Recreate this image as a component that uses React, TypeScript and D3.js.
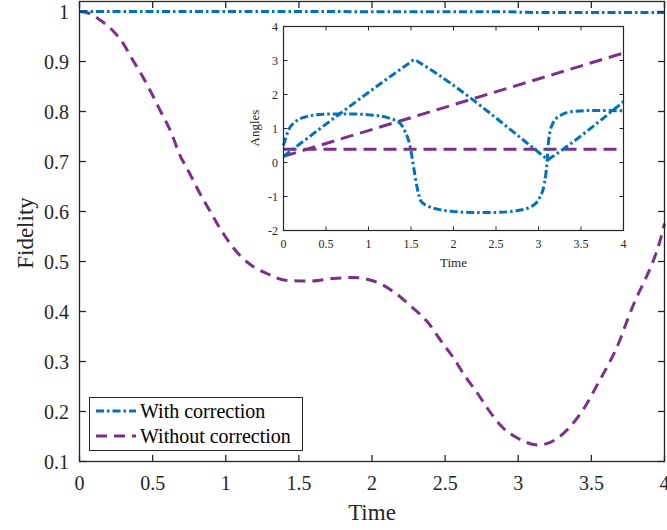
import React, { useEffect, useRef } from 'react';
import * as d3 from 'd3';

// Main plot: fidelity vs time
const fidTime = [0, 0.07, 0.14, 0.22, 0.29, 0.36, 0.42, 0.49, 0.56, 0.63, 0.68, 0.75, 0.82, 0.89, 0.97, 1.05, 1.15, 1.28, 1.42, 1.58, 1.73, 1.87, 2.01, 2.15, 2.26, 2.38, 2.47, 2.56, 2.64, 2.72, 2.79, 2.89, 3.0, 3.14, 3.28, 3.39, 3.47, 3.55, 3.62, 3.69, 3.745, 3.8, 3.86, 3.92, 3.97, 4.0];
const fidWithout = [1.0, 0.996, 0.983, 0.964, 0.94, 0.905, 0.876, 0.838, 0.797, 0.756, 0.717, 0.678, 0.638, 0.602, 0.562, 0.528, 0.498, 0.476, 0.462, 0.461, 0.466, 0.468, 0.461, 0.439, 0.412, 0.379, 0.342, 0.306, 0.269, 0.237, 0.206, 0.169, 0.146, 0.133, 0.149, 0.182, 0.216, 0.259, 0.296, 0.339, 0.382, 0.422, 0.459, 0.499, 0.542, 0.576];
const withTime = [0, 1, 2, 2.9, 3.1, 3.5, 4];
const fidWith = [1.0, 1.0, 0.9997, 0.9995, 0.998, 0.998, 0.998];

const mainXTicks = [0, 0.5, 1, 1.5, 2, 2.5, 3, 3.5, 4];
const mainYTicks = [0.1, 0.2, 0.3, 0.4, 0.5, 0.6, 0.7, 0.8, 0.9, 1];

// Inset: angles vs time
const triTime = [0, 1.5, 1.54, 1.58, 3.08, 3.11, 3.14, 4];
const triAngle = [0.18, 2.96, 3.03, 2.97, 0.14, 0.08, 0.13, 1.79];
const sigTime = [0, 0.06, 0.14, 0.27, 0.47, 0.74, 1.02, 1.25, 1.37, 1.43, 1.49, 1.53, 1.57, 1.62, 1.76, 2.0, 2.23, 2.47, 2.74, 2.92, 3.01, 3.07, 3.1, 3.12, 3.17, 3.25, 3.4, 3.64, 4.0];
const sigAngle = [0.5, 0.96, 1.2, 1.35, 1.42, 1.43, 1.4, 1.3, 1.16, 0.91, 0.47, -0.12, -0.71, -1.15, -1.34, -1.44, -1.47, -1.47, -1.42, -1.29, -1.05, -0.61, -0.02, 0.67, 1.16, 1.37, 1.5, 1.53, 1.52];
const rampTime = [0, 2, 4];
const rampAngle = [0.18, 1.7, 3.22];
const flatTime = [0, 4];
const flatAngle = [0.39, 0.39];

const insetXTicks = [0, 0.5, 1, 1.5, 2, 2.5, 3, 3.5, 4];
const insetYTicks = [-2, -1, 0, 1, 2, 3, 4];

const legendLabels = ['With correction', 'Without correction'];

const BLUE = '#0072BD';
const PURPLE = '#7E2F8E';
const AXIS = '#262626';
const FONT = '"Liberation Serif", "Times New Roman", serif';

export default function App() {
  const svgRef = useRef<SVGSVGElement>(null);

  useEffect(() => {
    document.body.style.margin = '0';
    const svg = d3.select(svgRef.current);
    svg.selectAll('*').remove();

    const zip = (xs: number[], ys: number[]) => xs.map((x, i) => [x, ys[i]] as [number, number]);

    // ---- main axes ----
    const x = d3.scaleLinear().domain([0, 4]).range([79.5, 664.5]);
    const y = d3.scaleLinear().domain([0.1, 1.02]).range([461.5, 1.5]);

    const main = svg.append('g');
    main.append('rect')
      .attr('x', 79.5).attr('y', 1.5)
      .attr('width', 585).attr('height', 460)
      .attr('fill', 'white');

    const line = d3.line<[number, number]>()
      .x(d => x(d[0]))
      .y(d => y(d[1]))
      .curve(d3.curveMonotoneX);

    main.append('path')
      .datum(zip(fidTime, fidWithout))
      .attr('fill', 'none')
      .attr('stroke', PURPLE)
      .attr('stroke-width', 3)
      .attr('stroke-dasharray', '11,7')
      .attr('d', line);

    main.append('path')
      .datum(zip(withTime, fidWith))
      .attr('fill', 'none')
      .attr('stroke', BLUE)
      .attr('stroke-width', 3)
      .attr('stroke-dasharray', '8,3,2.5,3')
      .attr('d', line);

    // box + inward ticks
    main.append('rect')
      .attr('x', 79.5).attr('y', 1.5)
      .attr('width', 585).attr('height', 460)
      .attr('fill', 'none').attr('stroke', AXIS).attr('stroke-width', 1.3);

    const tl = 6.5;
    mainXTicks.forEach(t => {
      main.append('line').attr('x1', x(t)).attr('x2', x(t)).attr('y1', 461.5).attr('y2', 461.5 - tl)
        .attr('stroke', AXIS).attr('stroke-width', 1.3);
      main.append('line').attr('x1', x(t)).attr('x2', x(t)).attr('y1', 1.5).attr('y2', 1.5 + tl)
        .attr('stroke', AXIS).attr('stroke-width', 1.3);
      main.append('text')
        .attr('x', x(t)).attr('y', 490)
        .attr('text-anchor', 'middle')
        .style('font-family', FONT).style('font-size', '20px').style('fill', AXIS)
        .text(String(t));
    });
    mainYTicks.forEach(v => {
      main.append('line').attr('x1', 79.5).attr('x2', 79.5 + tl).attr('y1', y(v)).attr('y2', y(v))
        .attr('stroke', AXIS).attr('stroke-width', 1.3);
      main.append('line').attr('x1', 664.5).attr('x2', 664.5 - tl).attr('y1', y(v)).attr('y2', y(v))
        .attr('stroke', AXIS).attr('stroke-width', 1.3);
      main.append('text')
        .attr('x', 69).attr('y', y(v) + 7)
        .attr('text-anchor', 'end')
        .style('font-family', FONT).style('font-size', '20px').style('fill', AXIS)
        .text(String(v));
    });

    main.append('text')
      .attr('x', 372).attr('y', 520)
      .attr('text-anchor', 'middle')
      .style('font-family', FONT).style('font-size', '23px').style('fill', AXIS)
      .text('Time');
    main.append('text')
      .attr('transform', 'translate(33,233) rotate(-90)')
      .attr('text-anchor', 'middle')
      .style('font-family', FONT).style('font-size', '23px').style('fill', AXIS)
      .text('Fidelity');

    // ---- legend ----
    const leg = svg.append('g');
    leg.append('rect')
      .attr('x', 89.5).attr('y', 397.5).attr('width', 213).attr('height', 53)
      .attr('fill', 'white').attr('stroke', AXIS).attr('stroke-width', 1);
    const legStyles = [
      { color: BLUE, dash: '8,3,2.5,3' },
      { color: PURPLE, dash: '11,7' },
    ];
    legendLabels.forEach((lab, i) => {
      const ly = 411 + i * 25;
      leg.append('line')
        .attr('x1', 96).attr('x2', 136).attr('y1', ly).attr('y2', ly)
        .attr('stroke', legStyles[i].color).attr('stroke-width', 3)
        .attr('stroke-dasharray', legStyles[i].dash);
      leg.append('text')
        .attr('x', 140).attr('y', ly + 7)
        .style('font-family', FONT).style('font-size', '20px').style('fill', '#000')
        .text(lab);
    });

    // ---- inset ----
    const ix = d3.scaleLinear().domain([0, 4]).range([283.5, 623.5]);
    const iy = d3.scaleLinear().domain([-2, 4]).range([230.5, 26.5]);
    const inset = svg.append('g');
    inset.append('rect')
      .attr('x', 283.5).attr('y', 26.5).attr('width', 340).attr('height', 204)
      .attr('fill', 'white');

    const iline = d3.line<[number, number]>()
      .x(d => ix(d[0]))
      .y(d => iy(d[1]));

    inset.append('path')
      .datum(zip(flatTime, flatAngle))
      .attr('fill', 'none').attr('stroke', PURPLE).attr('stroke-width', 3)
      .attr('stroke-dasharray', '13,7')
      .attr('d', iline);
    inset.append('path')
      .datum(zip(rampTime, rampAngle))
      .attr('fill', 'none').attr('stroke', PURPLE).attr('stroke-width', 3)
      .attr('stroke-dasharray', '13,7')
      .attr('d', iline);
    inset.append('path')
      .datum(zip(triTime, triAngle))
      .attr('fill', 'none').attr('stroke', BLUE).attr('stroke-width', 3)
      .attr('stroke-dasharray', '8,3,2.5,3')
      .attr('d', iline.curve(d3.curveMonotoneX));
    inset.append('path')
      .datum(zip(sigTime, sigAngle))
      .attr('fill', 'none').attr('stroke', BLUE).attr('stroke-width', 3)
      .attr('stroke-dasharray', '8,3,2.5,3')
      .attr('d', iline.curve(d3.curveMonotoneX));

    inset.append('rect')
      .attr('x', 283.5).attr('y', 26.5).attr('width', 340).attr('height', 204)
      .attr('fill', 'none').attr('stroke', AXIS).attr('stroke-width', 1.2);

    const itl = 4;
    insetXTicks.forEach(t => {
      inset.append('line').attr('x1', ix(t)).attr('x2', ix(t)).attr('y1', 230.5).attr('y2', 230.5 - itl)
        .attr('stroke', AXIS).attr('stroke-width', 1);
      inset.append('line').attr('x1', ix(t)).attr('x2', ix(t)).attr('y1', 26.5).attr('y2', 26.5 + itl)
        .attr('stroke', AXIS).attr('stroke-width', 1);
      inset.append('text')
        .attr('x', ix(t)).attr('y', 248)
        .attr('text-anchor', 'middle')
        .style('font-family', FONT).style('font-size', '12px').style('fill', AXIS)
        .text(String(t));
    });
    insetYTicks.forEach(v => {
      inset.append('line').attr('x1', 283.5).attr('x2', 283.5 + itl).attr('y1', iy(v)).attr('y2', iy(v))
        .attr('stroke', AXIS).attr('stroke-width', 1);
      inset.append('line').attr('x1', 623.5).attr('x2', 623.5 - itl).attr('y1', iy(v)).attr('y2', iy(v))
        .attr('stroke', AXIS).attr('stroke-width', 1);
      inset.append('text')
        .attr('x', 278).attr('y', iy(v) + 4)
        .attr('text-anchor', 'end')
        .style('font-family', FONT).style('font-size', '12px').style('fill', AXIS)
        .text(String(v));
    });
    inset.append('text')
      .attr('x', 453.5).attr('y', 267)
      .attr('text-anchor', 'middle')
      .style('font-family', FONT).style('font-size', '13px').style('fill', AXIS)
      .text('Time');
    inset.append('text')
      .attr('transform', 'translate(259,128) rotate(-90)')
      .attr('text-anchor', 'middle')
      .style('font-family', FONT).style('font-size', '13px').style('fill', AXIS)
      .text('Angles');
  }, []);

  return <svg ref={svgRef} width={667} height={530} style={{ display: 'block', background: 'white' }} />;
}
